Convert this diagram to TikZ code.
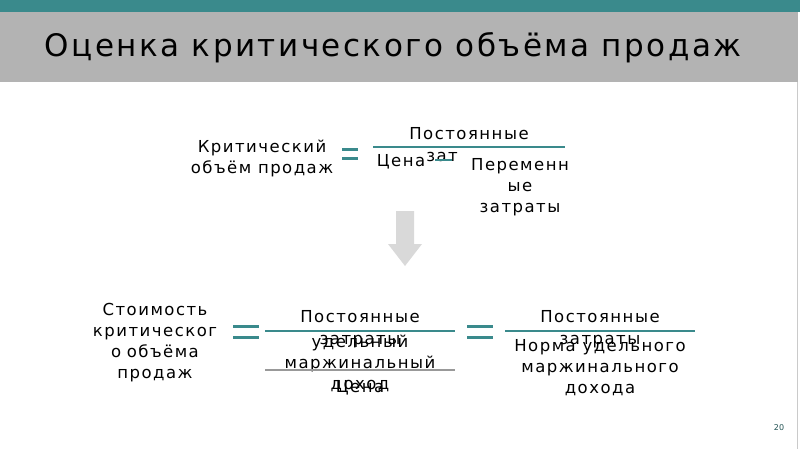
\documentclass[tikz,border=0pt]{standalone}
\usepackage{fontspec}
\setmainfont{DejaVu Sans}
\newfontfamily\widefont[LetterSpace=9]{DejaVu Sans}
\newfontfamily\titlefont[LetterSpace=8]{DejaVu Sans}
\usetikzlibrary{positioning}
\definecolor{tealbar}{RGB}{58,138,140}
\definecolor{titlegray}{RGB}{179,179,179}
\definecolor{arrowgray}{RGB}{217,217,217}
\tikzset{
  txt/.style={font=\widefont\fontsize{16.5}{21}\selectfont,align=center,inner sep=0pt},
  eqbar/.style={tealbar,line width=3pt},
  fracline/.style={tealbar,line width=2pt}
}
\begin{document}
\begin{tikzpicture}[x=1pt,y=-1pt]
\useasboundingbox (0,0) rectangle (800,449);

% Header
\fill[tealbar] (0,0) rectangle (800,12);
\fill[titlegray] (0,12) rectangle (798,82);
\draw[titlegray!70,line width=0.6pt] (797,82) -- (797,449);
\node[inner sep=0pt,font=\titlefont\fontsize{31}{36}\selectfont] (title) at (393,48) {Оценка критического объёма продаж};

% Upper formula
\node[txt] (crit) at (262,158) {Критический\\объём продаж};
\draw[eqbar] (342,150) -- (358,150) (342,159) -- (358,159);
\draw[fracline] (373,147) coordinate (fa) -- (565,147) coordinate (fb);
\node[txt] (fixa) at (469,134) {Постоянные};
\node[txt] (price) at (401,162) {Цена};
\node[txt] (zat) at (442,157) {зат};
\draw[tealbar,line width=2.5pt] (435,160) -- (452,160);
\node[txt] (vara) at (520,187) {Переменн\\ые\\затраты};

% Arrow down
\fill[arrowgray] (396,211) -- (414,211) -- (414,244) -- (422,244) -- (405,266)
  -- (388,244) -- (396,244) -- cycle;

% Lower formula
\node[txt,text width=150pt] (cost) at (155,343) {Стоимость\\критическог\\о объёма\\продаж};
\draw[eqbar] (233,326) -- (259,326) (233,337) -- (259,337);
\draw[fracline] (265,331) -- (455,331);
\node[txt] (fixb) at (360,317) {Постоянные};
\node[txt] (zb) at (360,342) {затраты};
\node[txt] (margin) at (360,363) {удельный\\маржинальный\\доход};
\draw[gray!80,line width=1.5pt] (265,370) -- (455,370);
\node[txt] (priceb) at (360,388) {Цена};
\draw[eqbar] (467,326) -- (493,326) (467,337) -- (493,337);
\draw[fracline] (505,331) -- (695,331);
\node[txt] (fixc) at (600,317) {Постоянные};
\node[txt] (zc) at (600,342) {затраты};
\node[txt] (norm) at (600,368) {Норма удельного\\маржинального\\дохода};

% Page number
\node[inner sep=0pt,font=\fontsize{8}{10}\selectfont,text=tealbar!60!black] (page) at (779,428) {20};
\end{tikzpicture}
\end{document}
